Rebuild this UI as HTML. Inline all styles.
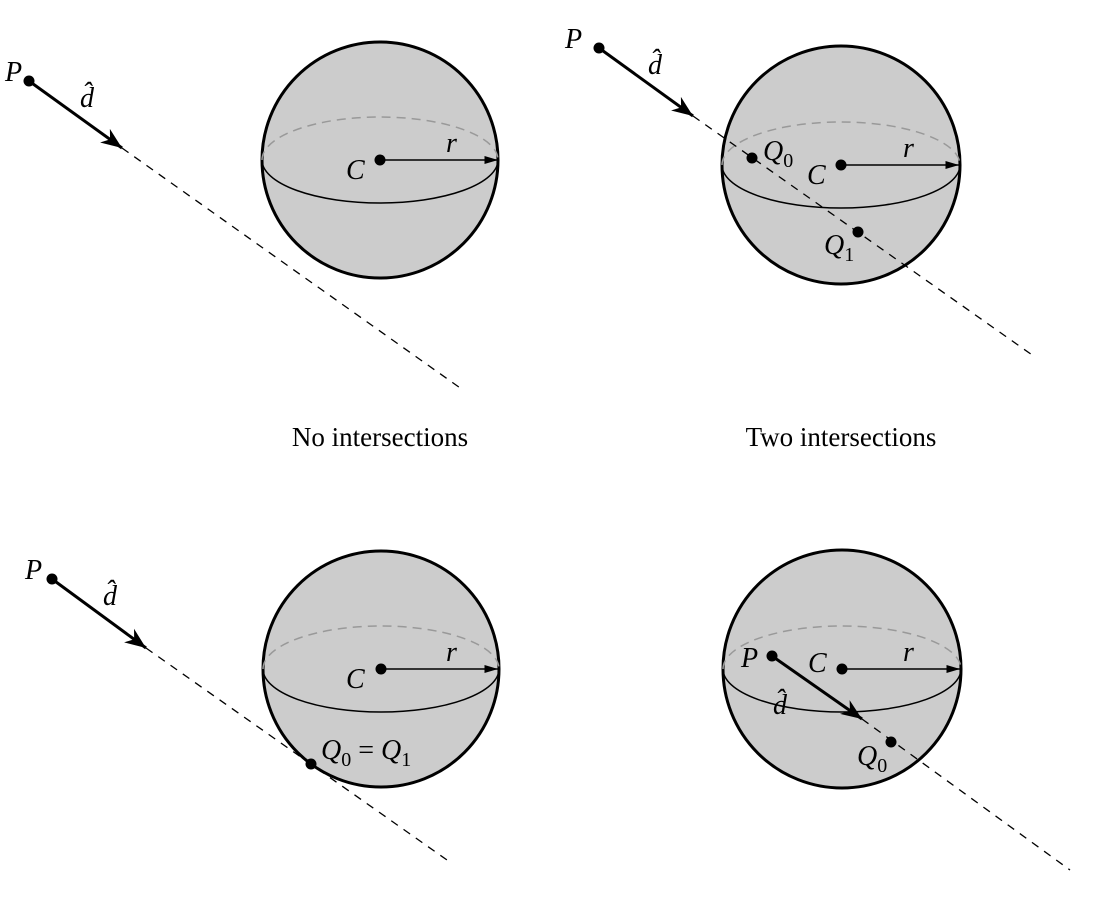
<!DOCTYPE html>
<html><head><meta charset="utf-8"><style>
html,body{margin:0;padding:0;background:#fff;width:1095px;height:897px;overflow:hidden}
text{font-family:"Liberation Serif",serif;fill:#000}
.it{font-style:italic}
</style></head><body>
<svg width="1095" height="897" viewBox="0 0 1095 897">
<defs>
<marker id="ah" viewBox="0 0 10 10" refX="10" refY="5" markerWidth="7" markerHeight="7" orient="auto"><path d="M0,1 L10,5 L0,9 L3,5 z" fill="#000"/></marker>
<marker id="ahs" viewBox="0 0 10 10" refX="10" refY="5" markerWidth="9" markerHeight="9" orient="auto"><path d="M0,2 L10,5 L0,8 z" fill="#000"/></marker>
</defs>

<g>
<g>
<circle cx="380" cy="160" r="118" fill="#cccccc" stroke="#000" stroke-width="3"/>
<path d="M262,160 A118,43 0 0 1 498,160" fill="none" stroke="#999" stroke-width="1.5" stroke-dasharray="9,6"/>
<path d="M262,160 A118,43 0 0 0 498,160" fill="none" stroke="#000" stroke-width="1.5"/>
</g>
<line x1="380" y1="160" x2="498" y2="160" stroke="#000" stroke-width="1.5" marker-end="url(#ahs)"/>
<circle cx="380" cy="160" r="5.5" fill="#000"/>
<text x="346" y="179" font-size="28" class="it">C</text>
<text x="446" y="152" font-size="28" class="it">r</text>
<line x1="122" y1="148" x2="463" y2="390" stroke="#000" stroke-width="1.3" stroke-dasharray="8,7"/>
<line x1="29" y1="81" x2="122" y2="148" stroke="#000" stroke-width="3" marker-end="url(#ah)"/>
<circle cx="29" cy="81" r="5.5" fill="#000"/>
<text x="5" y="81" font-size="28" class="it">P</text>
<text x="80" y="107" font-size="28" class="it">d̂</text>
<text x="380" y="446" font-size="27" text-anchor="middle">No intersections</text>
</g>

<g>
<g>
<circle cx="841" cy="165" r="119" fill="#cccccc" stroke="#000" stroke-width="3"/>
<path d="M722,165 A119,43 0 0 1 960,165" fill="none" stroke="#999" stroke-width="1.5" stroke-dasharray="9,6"/>
<path d="M722,165 A119,43 0 0 0 960,165" fill="none" stroke="#000" stroke-width="1.5"/>
</g>
<line x1="693" y1="116" x2="1035" y2="357" stroke="#000" stroke-width="1.3" stroke-dasharray="8,7"/>
<line x1="841" y1="165" x2="959" y2="165" stroke="#000" stroke-width="1.5" marker-end="url(#ahs)"/>
<circle cx="841" cy="165" r="5.5" fill="#000"/>
<text x="807" y="184" font-size="28" class="it">C</text>
<text x="903" y="157" font-size="28" class="it">r</text>
<line x1="599" y1="48" x2="693" y2="116" stroke="#000" stroke-width="3" marker-end="url(#ah)"/>
<circle cx="599" cy="48" r="5.5" fill="#000"/>
<text x="565" y="48" font-size="28" class="it">P</text>
<text x="648" y="74" font-size="28" class="it">d̂</text>
<circle cx="752" cy="158" r="5.5" fill="#000"/>
<text x="763" y="160" font-size="28" class="it">Q<tspan font-style="normal" font-size="20" dy="7">0</tspan></text>
<circle cx="858" cy="232" r="5.5" fill="#000"/>
<text x="824" y="254" font-size="28" class="it">Q<tspan font-style="normal" font-size="20" dy="7">1</tspan></text>
<text x="841" y="446" font-size="27" text-anchor="middle">Two intersections</text>
</g>

<g>
<g>
<circle cx="381" cy="669" r="118" fill="#cccccc" stroke="#000" stroke-width="3"/>
<path d="M263,669 A118,43 0 0 1 499,669" fill="none" stroke="#999" stroke-width="1.5" stroke-dasharray="9,6"/>
<path d="M263,669 A118,43 0 0 0 499,669" fill="none" stroke="#000" stroke-width="1.5"/>
</g>
<line x1="146" y1="648" x2="447" y2="860" stroke="#000" stroke-width="1.3" stroke-dasharray="8,7"/>
<line x1="381" y1="669" x2="498" y2="669" stroke="#000" stroke-width="1.5" marker-end="url(#ahs)"/>
<circle cx="381" cy="669" r="5.5" fill="#000"/>
<text x="346" y="688" font-size="28" class="it">C</text>
<text x="446" y="661" font-size="28" class="it">r</text>
<line x1="52" y1="579" x2="146" y2="648" stroke="#000" stroke-width="3" marker-end="url(#ah)"/>
<circle cx="52" cy="579" r="5.5" fill="#000"/>
<text x="25" y="579" font-size="28" class="it">P</text>
<text x="103" y="605" font-size="28" class="it">d̂</text>
<circle cx="311" cy="764" r="5.5" fill="#000"/>
<text x="321" y="759" font-size="28" class="it">Q<tspan font-style="normal" font-size="20" dy="7">0</tspan><tspan font-style="normal" dy="-7"> = </tspan>Q<tspan font-style="normal" font-size="20" dy="7">1</tspan></text>
</g>

<g>
<g>
<circle cx="842" cy="669" r="119" fill="#cccccc" stroke="#000" stroke-width="3"/>
<path d="M723,669 A119,43 0 0 1 961,669" fill="none" stroke="#999" stroke-width="1.5" stroke-dasharray="9,6"/>
<path d="M723,669 A119,43 0 0 0 961,669" fill="none" stroke="#000" stroke-width="1.5"/>
</g>
<line x1="862" y1="719" x2="1070" y2="870" stroke="#000" stroke-width="1.3" stroke-dasharray="8,7"/>
<line x1="842" y1="669" x2="960" y2="669" stroke="#000" stroke-width="1.5" marker-end="url(#ahs)"/>
<circle cx="842" cy="669" r="5.5" fill="#000"/>
<text x="808" y="672" font-size="28" class="it">C</text>
<text x="903" y="661" font-size="28" class="it">r</text>
<line x1="772" y1="656" x2="862" y2="719" stroke="#000" stroke-width="3" marker-end="url(#ah)"/>
<circle cx="772" cy="656" r="5.5" fill="#000"/>
<text x="741" y="667" font-size="28" class="it">P</text>
<text x="773" y="714" font-size="28" class="it">d̂</text>
<circle cx="891" cy="742" r="5.5" fill="#000"/>
<text x="857" y="765" font-size="28" class="it">Q<tspan font-style="normal" font-size="20" dy="7">0</tspan></text>
</g>
</svg>
</body></html>
